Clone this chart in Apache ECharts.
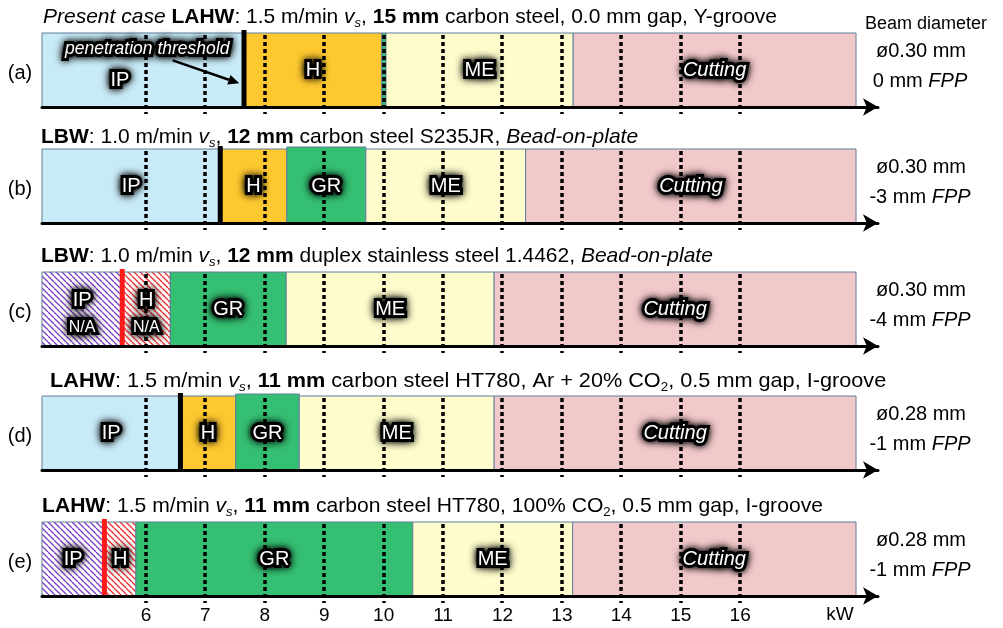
<!DOCTYPE html>
<html><head><meta charset="utf-8">
<script src="https://cdn.jsdelivr.net/npm/echarts@6/dist/echarts.min.js"></script>
<style>html,body{margin:0;padding:0;background:#fff}#c{width:1003px;height:628px}</style>
</head><body><div id="c"></div>
<script>
// ---------------- data ----------------
const rowLetters = ['(a)', '(b)', '(c)', '(d)', '(e)'];
const zoneNames = ['IP', 'H', 'GR', 'ME', 'Cutting'];
// zone boundaries in kW: [start IP, IP|H, H|GR, GR|ME, ME|Cutting, end]
const rowA = [4.25, 7.65, 9.97, 10.04, 13.19, 17.95];
const rowB = [4.25, 7.25, 8.37, 9.70, 12.39, 17.95];
const rowC = [4.25, 5.60, 6.41, 8.36, 11.86, 17.95];
const rowD = [4.25, 6.58, 7.51, 8.58, 11.86, 17.95];
const rowE = [4.25, 5.30, 5.83, 10.49, 13.18, 17.95];
const rowBounds = [rowA, rowB, rowC, rowD, rowE];
const thresholdColors = ['#000', '#000', '#ff1a1a', '#000', '#ff1a1a'];
const hatchedRows = [false, false, true, false, true];
const naRows = [false, false, true, false, false];
const gridKW = [6, 7, 8, 9, 10, 11, 12, 13, 14, 15, 16];
const tickLabels = ['6', '7', '8', '9', '10', '11', '12', '13', '14', '15', '16'];
const beamDia = ['ø0.30 mm', 'ø0.30 mm', 'ø0.30 mm', 'ø0.28 mm', 'ø0.28 mm'];
const fppVals = ['0 mm', '-3 mm', '-4 mm', '-1 mm', '-1 mm'];
const titles = [
  '{i|Present case} {b|LAHW}: 1.5 m/min {i|v}{si|s}, {b|15 mm} carbon steel, 0.0 mm gap, Y-groove',
  '{b|LBW}: 1.0 m/min {i|v}{si|s}, {b|12 mm} carbon steel S235JR, {i|Bead-on-plate}',
  '{b|LBW}: 1.0 m/min {i|v}{si|s}, {b|12 mm} duplex stainless steel 1.4462, {i|Bead-on-plate}',
  '{b|LAHW}: 1.5 m/min {i|v}{si|s}, {b|11 mm} carbon steel HT780, Ar + 20% CO{sub|2}, 0.5 mm gap, I-groove',
  '{b|LAHW}: 1.5 m/min {i|v}{si|s}, {b|11 mm} carbon steel HT780, 100% CO{sub|2}, 0.5 mm gap, I-groove'
];
const annotationText = 'penetration threshold';
const annotationAt = [6.02, 0.78];
const arrowFrom = [6.45, 0.63];
const arrowTo = [7.57, 0.32];

// ---------------- styles ----------------
const FONT = '"Liberation Sans", Arial, sans-serif';
const zoneColors = ['#c9ebf8', '#fec930', '#35bf72', '#fefccc', '#f2c9cb'];
const borderColor = '#5f7e99';
const boxTops = [33, 149, 272, 396, 522];
const boxH = 74;
const titleY = [17, 137, 256, 381, 506];
const titleX = [43, 41, 41, 50, 42];
const titleScaleX = [1, 1, 1, 1.032, 1.005];

function hatch(color) {
  const s = 6;
  const c = document.createElement('canvas');
  c.width = s; c.height = s;
  const g = c.getContext('2d');
  g.fillStyle = '#fff'; g.fillRect(0, 0, s, s);
  g.strokeStyle = color; g.lineWidth = 1.25;
  for (let k = -s; k <= s; k += s) {
    g.beginPath(); g.moveTo(k, 0); g.lineTo(k + s, s); g.stroke();
  }
  return c;
}
const purplePat = { image: hatch('#7a3cc0'), repeat: 'repeat' };
const redPat = { image: hatch('#f02a2a'), repeat: 'repeat' };

function glowText(text, x, y, size, italic) {
  const base = { text, x, y, align: 'center', verticalAlign: 'middle',
    fontSize: size, fontFamily: FONT, fontStyle: italic ? 'italic' : 'normal' };
  return [
    { type: 'text', style: Object.assign({}, base, { fill: '#000', stroke: '#000', lineWidth: 6,
      textShadowColor: '#000', textShadowBlur: 9 }), z2: 49 },
    { type: 'text', style: Object.assign({}, base, { fill: '#fff', stroke: '#000', lineWidth: 2,
      textShadowColor: '#000', textShadowBlur: 5 }), z2: 50 }
  ];
}

function makeRenderer(r) {
  const b = rowBounds[r];
  return function (params, api) {
    const ch = [];
    const top = api.coord([b[0], 1])[1];
    const bot = api.coord([b[0], 0])[1];
    const midY = (top + bot) / 2;
    // zone boxes
    for (let z = 0; z < 5; z++) {
      const x0 = api.coord([b[z], 0])[0];
      const x1 = api.coord([b[z + 1], 0])[0];
      let fill = zoneColors[z];
      if (hatchedRows[r] && z === 0) fill = purplePat;
      if (hatchedRows[r] && z === 1) fill = redPat;
      let t = top;
      if (z === 2 && (r === 1 || r === 3)) t = top - 2;
      ch.push({ type: 'rect', shape: { x: x0, y: t, width: x1 - x0, height: bot - t },
        style: { fill, stroke: borderColor, lineWidth: 1 }, z2: 1 });
    }
    // dotted kW lines
    gridKW.forEach(v => {
      const x = Math.round(api.coord([v, 0])[0]);
      ch.push({ type: 'line', shape: { x1: x, y1: top + 2, x2: x, y2: bot + 7 },
        style: { stroke: '#000', lineWidth: 3.5, lineDash: [4, 3] }, z2: 10 });
    });
    // threshold line
    const tx = api.coord([b[1], 0])[0];
    ch.push({ type: 'line', shape: { x1: tx, y1: top - 3, x2: tx, y2: bot },
      style: { stroke: thresholdColors[r], lineWidth: 5 }, z2: 20 });
    // zone labels
    for (let z = 0; z < 5; z++) {
      const x0 = api.coord([b[z], 0])[0];
      const x1 = api.coord([b[z + 1], 0])[0];
      if (x1 - x0 < 15) continue;
      let cx = (x0 + x1) / 2, cy = midY;
      if (r === 0 && z === 0) { cx -= 23; cy += 10; }
      if (naRows[r] && z < 2) {
        ch.push(...glowText(zoneNames[z], cx, cy - 9, 20, false));
        ch.push(...glowText('N/A', cx, cy + 19, 16, false));
      } else {
        ch.push(...glowText(zoneNames[z], cx, cy, 20, z === 4));
      }
    }
    // annotation (row a)
    if (r === 0) {
      const p = api.coord(annotationAt);
      ch.push(...glowText(annotationText, p[0], p[1], 17.5, true));
      const a = api.coord(arrowFrom), e = api.coord(arrowTo);
      const ang = Math.atan2(e[1] - a[1], e[0] - a[0]);
      const hl = 11, hw = 5;
      const bx = e[0] - hl * Math.cos(ang), by = e[1] - hl * Math.sin(ang);
      ch.push({ type: 'line', shape: { x1: a[0], y1: a[1], x2: bx, y2: by },
        style: { stroke: '#000', lineWidth: 2.5 }, z2: 30 });
      ch.push({ type: 'polygon', shape: { points: [
        [e[0], e[1]],
        [bx + hw * Math.sin(ang), by - hw * Math.cos(ang)],
        [bx - hw * Math.sin(ang), by + hw * Math.cos(ang)]
      ] }, style: { fill: '#000' }, z2: 30 });
    }
    // tick labels (bottom row)
    if (r === 4) {
      gridKW.forEach((v, i) => {
        const x = api.coord([v, 0])[0];
        ch.push({ type: 'text', style: { text: tickLabels[i], x, y: bot + 20, align: 'center',
          verticalAlign: 'middle', fontSize: 19, fontFamily: FONT, fill: '#000' }, z2: 40 });
      });
    }
    return { type: 'group', children: ch };
  };
}

const richStyles = {
  b: { fontSize: 21, fontFamily: FONT, fontWeight: 'bold', fill: '#000' },
  i: { fontSize: 21, fontFamily: FONT, fontStyle: 'italic', fill: '#000' },
  si: { fontSize: 13, fontFamily: FONT, fontStyle: 'italic', fill: '#000', padding: [12, 0, 0, 0] },
  sub: { fontSize: 13, fontFamily: FONT, fill: '#000', padding: [12, 0, 0, 0] }
};

const graphics = [];
rowLetters.forEach((L, r) => {
  const mid = boxTops[r] + boxH / 2;
  graphics.push({ type: 'text', x: 20, y: mid + 3, style: { text: L, align: 'center', verticalAlign: 'middle',
    fontSize: 20, fontFamily: FONT, fill: '#000' } });
  graphics.push({ type: 'text', x: 921, y: boxTops[r] + 18, style: { text: beamDia[r], align: 'center', verticalAlign: 'middle',
    fontSize: 20, fontFamily: FONT, fill: '#000' } });
  graphics.push({ type: 'text', x: 920, y: boxTops[r] + 48, style: { text: fppVals[r] + ' {i|FPP}', align: 'center', verticalAlign: 'middle',
    fontSize: 20, fontFamily: FONT, fill: '#000',
    rich: { i: { fontSize: 20, fontFamily: FONT, fontStyle: 'italic', fill: '#000' } } } });
  graphics.push({ type: 'text', x: titleX[r], y: titleY[r], scaleX: titleScaleX[r], style: { text: titles[r], align: 'left', verticalAlign: 'middle',
    fontSize: 21, fontFamily: FONT, fill: '#000', rich: richStyles } });
});
graphics.push({ type: 'text', x: 926, y: 24, style: { text: 'Beam diameter', align: 'center', verticalAlign: 'middle',
  fontSize: 18, fontFamily: FONT, fill: '#000' } });
graphics.push({ type: 'text', x: 840, y: 615, style: { text: 'kW', align: 'center', verticalAlign: 'middle',
  fontSize: 19, fontFamily: FONT, fill: '#000' } });

const option = {
  animation: false,
  backgroundColor: '#fff',
  grid: rowLetters.map((L, r) => ({ left: 42, right: 125, top: boxTops[r], height: boxH })),
  xAxis: rowLetters.map((L, r) => ({
    gridIndex: r, type: 'value', min: 4.25, max: 18.32, z: 5,
    axisLine: { show: true, onZero: false, lineStyle: { color: '#000', width: 3 },
      symbol: ['none', 'arrow'], symbolSize: [13, 15] },
    axisTick: { show: false }, axisLabel: { show: false }, splitLine: { show: false }
  })),
  yAxis: rowLetters.map((L, r) => ({ gridIndex: r, type: 'value', min: 0, max: 1, show: false })),
  series: rowLetters.map((L, r) => ({
    type: 'custom', xAxisIndex: r, yAxisIndex: r, data: [[0, 0]],
    renderItem: makeRenderer(r), silent: true, clip: false
  })),
  graphic: graphics
};
const chart = echarts.init(document.getElementById('c'), null, { renderer: 'canvas' });
chart.setOption(option);
</script></body></html>
